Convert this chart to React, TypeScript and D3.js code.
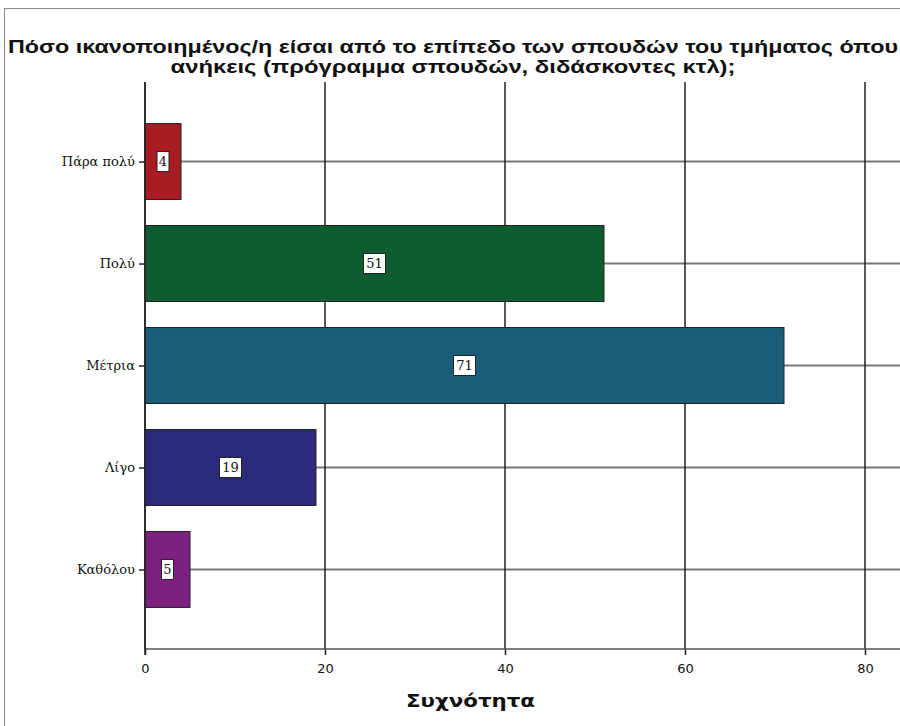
import React, { useEffect, useRef } from 'react';
import * as d3 from 'd3';

const categories = ['Πάρα πολύ', 'Πολύ', 'Μέτρια', 'Λίγο', 'Καθόλου'];
const counts = [4, 51, 71, 19, 5];
const barColors = ['#a81c24', '#0e5c30', '#1a5d78', '#2a2a7a', '#7c2180'];
const xTicks = [0, 20, 40, 60, 80];
const titleLines = [
   'Πόσο ικανοποιημένος/η είσαι από το επίπεδο των σπουδών του τμήματος όπου',
   'ανήκεις (πρόγραμμα σπουδών, διδάσκοντες κτλ);',
];
const xTitle = 'Συχνότητα';

const W = 900;
const H = 726;

const App: React.FC = () => {
   const svgRef = useRef<SVGSVGElement | null>(null);

   useEffect(() => {
      if (!svgRef.current) return;
      const svg = d3.select(svgRef.current);
      svg.selectAll('*').remove();

      const plot = { left: 145, right: 865, top: 82, bottom: 649 };

      const x = d3.scaleLinear().domain([0, 80]).range([plot.left, plot.right]);
      const y = d3
         .scalePoint<string>()
         .domain(categories)
         .range([plot.top, plot.bottom])
         .padding(0.78);
      const barH = y.step() * 0.745;

      // outer frame
      svg.append('rect')
         .attr('x', 4.5).attr('y', 8.5)
         .attr('width', W).attr('height', H)
         .attr('fill', 'white')
         .attr('stroke', '#888');

      // title (the original rendering is stretched horizontally)
      const titleWidths = [890, 565];
      svg.append('g')
         .selectAll('text')
         .data(titleLines)
         .enter()
         .append('text')
         .attr('x', (d, i) => 453 - titleWidths[i] / 2)
         .attr('y', (d, i) => 53 + i * 20)
         .attr('textLength', (d, i) => titleWidths[i])
         .attr('lengthAdjust', 'spacingAndGlyphs')
         .attr('font-family', 'Liberation Sans, Arial, sans-serif')
         .attr('font-weight', 'bold')
         .attr('font-size', 19)
         .attr('fill', '#111')
         .text(d => d);

      // horizontal grid lines through each category
      svg.append('g')
         .selectAll('line')
         .data(categories)
         .enter()
         .append('line')
         .attr('x1', plot.left).attr('x2', W)
         .attr('y1', d => y(d)!).attr('y2', d => y(d)!)
         .attr('stroke', '#777')
         .attr('stroke-width', 2);

      // vertical grid lines
      svg.append('g')
         .selectAll('line')
         .data(xTicks)
         .enter()
         .append('line')
         .attr('x1', d => x(d)).attr('x2', d => x(d))
         .attr('y1', plot.top).attr('y2', plot.bottom)
         .attr('stroke', '#222')
         .attr('stroke-width', 1.5);

      // bars
      svg.append('g')
         .selectAll('rect')
         .data(counts)
         .enter()
         .append('rect')
         .attr('x', x(0))
         .attr('y', (d, i) => y(categories[i])! - barH / 2)
         .attr('width', d => x(d) - x(0))
         .attr('height', barH)
         .attr('fill', (d, i) => barColors[i])
         .attr('stroke', '#222')
         .attr('stroke-width', 1);

      // value labels
      const labels = svg.append('g')
         .selectAll('g')
         .data(counts)
         .enter()
         .append('g')
         .attr('transform', (d, i) => `translate(${x(d / 2)},${y(categories[i])})`);
      labels.append('rect')
         .attr('x', d => (String(d).length > 1 ? -11 : -6))
         .attr('y', -10)
         .attr('width', d => (String(d).length > 1 ? 22 : 12))
         .attr('height', 20)
         .attr('fill', 'white')
         .attr('stroke', '#222')
         .attr('stroke-width', 1);
      labels.append('text')
         .attr('text-anchor', 'middle')
         .attr('dy', '0.35em')
         .attr('font-family', 'DejaVu Serif, Liberation Serif, serif')
         .attr('font-size', 13)
         .attr('fill', '#111')
         .text(d => d);

      // bottom axis
      const xAxis = svg.append('g')
         .attr('transform', `translate(0,${plot.bottom})`)
         .call(d3.axisBottom(x).tickValues(xTicks).tickSize(6).tickSizeOuter(0));
      xAxis.select('.domain').remove();
      xAxis.append('line')
         .attr('x1', plot.left).attr('x2', W)
         .attr('stroke', '#555').attr('stroke-width', 1.5);
      xAxis.selectAll('.tick line').attr('stroke', '#222').attr('stroke-width', 1.5);
      xAxis.selectAll('.tick text')
         .attr('font-family', 'DejaVu Sans, sans-serif')
         .attr('font-size', 13)
         .attr('fill', '#111')
         .attr('dy', '1.15em');

      // left axis
      const yAxis = svg.append('g')
         .attr('transform', `translate(${plot.left},0)`)
         .call(d3.axisLeft(y).tickSize(6).tickSizeOuter(0));
      yAxis.select('.domain').remove();
      yAxis.append('line')
         .attr('y1', plot.top).attr('y2', plot.bottom + 6)
         .attr('stroke', '#222').attr('stroke-width', 1.5);
      yAxis.selectAll('.tick line').attr('stroke', '#222').attr('stroke-width', 1.5);
      yAxis.selectAll('.tick text')
         .attr('font-family', 'DejaVu Serif, Liberation Serif, serif')
         .attr('font-size', 13)
         .attr('fill', '#111')
         .attr('x', -10);

      // axis title
      svg.append('text')
         .attr('x', 470 - 64)
         .attr('y', 707)
         .attr('textLength', 129)
         .attr('lengthAdjust', 'spacingAndGlyphs')
         .attr('font-family', 'DejaVu Sans, sans-serif')
         .attr('font-weight', 'bold')
         .attr('font-size', 17)
         .attr('fill', '#111')
         .text(xTitle);
   }, []);

   return (
      <svg
         ref={svgRef}
         width={W}
         height={H}
         style={{ position: 'absolute', left: 0, top: 0, display: 'block' }}
      />
   );
};

export default App;
